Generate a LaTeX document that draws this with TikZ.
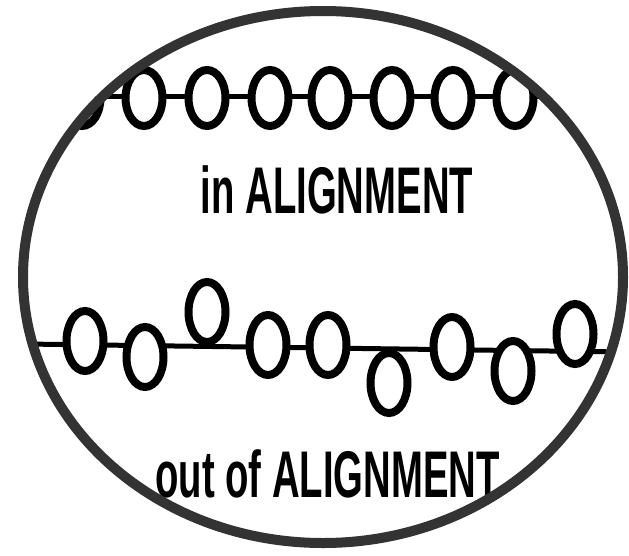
\documentclass[tikz,border=0pt]{standalone}
\usepackage{fontspec}
\setmainfont{Liberation Sans}
\usetikzlibrary{shapes.geometric}
\definecolor{rim}{HTML}{333333}
\tikzset{
  ring/.style={ellipse, draw=black, line width=8pt, fill=white, inner sep=0pt,
    minimum width=37pt, minimum height=56pt},
  bring/.style={ring, minimum width=37pt, minimum height=60pt},
  link/.style={line width=5pt, draw=black},
  captxt/.style={font=\fontsize{66}{66}\selectfont\bfseries, inner sep=0pt, anchor=base},
  rimline/.style={draw=rim, line width=10pt}
}
\begin{document}
\begin{tikzpicture}[x=1pt,y=-1pt]
\path[fill=white] (0,0) rectangle (629,555);
\useasboundingbox (0,0) rectangle (629,555);
\begin{scope}
  \clip (323,277) ellipse [x radius=300, y radius=266];
  % top row
  \coordinate (tL) at (40,96);
  \coordinate (tR) at (620,96);
  \draw[link] (tL) -- (tR);
  \foreach \i/\x in {0/82,1/144,2/207,3/270,4/330,5/392,6/453,7/515,8/577}
    \node[ring] (t\i) at (\x,98) {};
  % bottom row
  \coordinate (bL) at (25,344);
  \coordinate (bR) at (625,352);
  \draw[link] (bL) -- (bR);
  \node[bring] (b1) at (85,341) {};
  \node[bring] (b2) at (145,357) {};
  \node[bring] (b3) at (207,312) {};
  \node[bring] (b4) at (268,345) {};
  \node[bring] (b5) at (328,345) {};
  \node[bring] (b6) at (389,383) {};
  \node[bring] (b7) at (452,347) {};
  \node[bring] (b8) at (513,371) {};
  \node[bring] (b9) at (575,334) {};
\end{scope}
\node[captxt] (inA) at (337,213) {\scalebox{0.58}[1]{in ALIGNMENT}};
\node[captxt] (outA) at (327.5,497) {\scalebox{0.58}[1]{out of ALIGNMENT}};
\draw[rimline] (323,277) ellipse [x radius=300, y radius=266];
\end{tikzpicture}
\end{document}
